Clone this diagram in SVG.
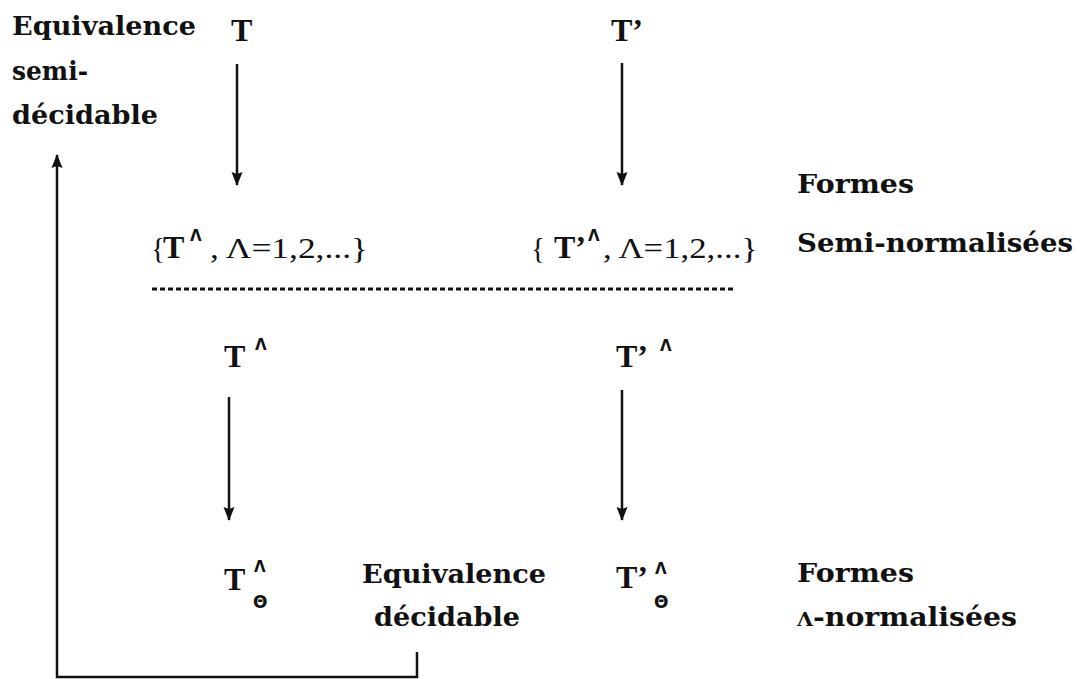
<svg xmlns="http://www.w3.org/2000/svg" width="1082" height="679" viewBox="0 0 1082 679">
<style>
.lbl{font-family:"DejaVu Serif","Liberation Serif",serif;font-weight:bold;font-size:26px;fill:#111}
.T{font-family:"Liberation Serif",serif;font-weight:bold;font-size:32px;fill:#111}
.m{font-family:"Liberation Serif",serif;font-size:29px;fill:#111}
.s{font-family:"DejaVu Sans",sans-serif;font-weight:bold;font-size:15px;fill:#111}
.th{font-family:"DejaVu Sans",sans-serif;font-weight:bold;font-size:17px;fill:#111}
.ln{stroke:#111;stroke-width:2.5;fill:none}
</style>
<defs>
<marker id="ah" markerUnits="userSpaceOnUse" markerWidth="14" markerHeight="12" viewBox="0 0 14 12" refX="13" refY="6" orient="auto">
<path d="M0,0.5 L14,6 L0,11.5 L2,6 Z" fill="#111"/>
</marker>
</defs>
<rect width="1082" height="679" fill="#fff"/>
<g id="connectors">
<line class="ln" x1="237" y1="64" x2="237" y2="185" marker-end="url(#ah)"/>
<line class="ln" x1="622" y1="63" x2="622" y2="185" marker-end="url(#ah)"/>
<line class="ln" x1="229" y1="397" x2="229" y2="520" marker-end="url(#ah)"/>
<line class="ln" x1="622" y1="390" x2="622" y2="520" marker-end="url(#ah)"/>
<path class="ln" d="M417,652 V677 H57 V155" marker-end="url(#ah)"/>
<line x1="152" y1="289" x2="733" y2="289" stroke="#111" stroke-width="3" stroke-dasharray="5 3"/>
</g>
<g id="label-semi-decidable">
<text class="lbl" x="12" y="35" textLength="184" lengthAdjust="spacingAndGlyphs">Equivalence</text>
<text class="lbl" x="12" y="80" textLength="76" lengthAdjust="spacingAndGlyphs">semi-</text>
<text class="lbl" x="12" y="124" textLength="146" lengthAdjust="spacingAndGlyphs">décidable</text>
</g>
<g id="node-T">
<text class="T" x="231" y="41">T</text>
</g>
<g id="node-Tp">
<text class="T" x="611" y="41">T’</text>
</g>
<g id="label-semi-normalisees">
<text class="lbl" x="797" y="193" textLength="117" lengthAdjust="spacingAndGlyphs">Formes</text>
<text class="lbl" x="797" y="252" textLength="276" lengthAdjust="spacingAndGlyphs">Semi-normalisées</text>
</g>
<g id="node-set-T">
<text class="m" x="151" y="258">{</text>
<text class="T" x="163" y="258">T</text>
<text class="s" x="190" y="241">Λ</text>
<text class="m" x="210" y="258" textLength="158" lengthAdjust="spacingAndGlyphs">, Λ=1,2,...}</text>
</g>
<g id="node-set-Tp">
<text class="m" x="531" y="258">{</text>
<text class="T" x="554" y="258">T’</text>
<text class="s" x="588" y="241">Λ</text>
<text class="m" x="603" y="258" textLength="155" lengthAdjust="spacingAndGlyphs">, Λ=1,2,...}</text>
</g>
<g id="node-TL">
<text class="T" x="224" y="367">T</text>
<text class="s" x="255" y="350">Λ</text>
</g>
<g id="node-TpL">
<text class="T" x="616" y="367">T’</text>
<text class="s" x="660" y="351">Λ</text>
</g>
<g id="node-TLT">
<text class="T" x="224" y="590">T</text>
<text class="s" x="254" y="572">Λ</text>
<text class="th" x="253" y="608">Θ</text>
</g>
<g id="node-TpLT">
<text class="T" x="616" y="588">T’</text>
<text class="s" x="655" y="574">Λ</text>
<text class="th" x="654" y="608">Θ</text>
</g>
<g id="label-decidable">
<text class="lbl" x="362" y="583" textLength="184" lengthAdjust="spacingAndGlyphs">Equivalence</text>
<text class="lbl" x="374" y="626" textLength="146" lengthAdjust="spacingAndGlyphs">décidable</text>
</g>
<g id="label-lambda-normalisees">
<text class="lbl" x="797" y="582" textLength="117" lengthAdjust="spacingAndGlyphs">Formes</text>
<text class="lbl" x="797" y="626" textLength="220" lengthAdjust="spacingAndGlyphs"><tspan font-size="19">Λ</tspan>-normalisées</text>
</g>
</svg>
